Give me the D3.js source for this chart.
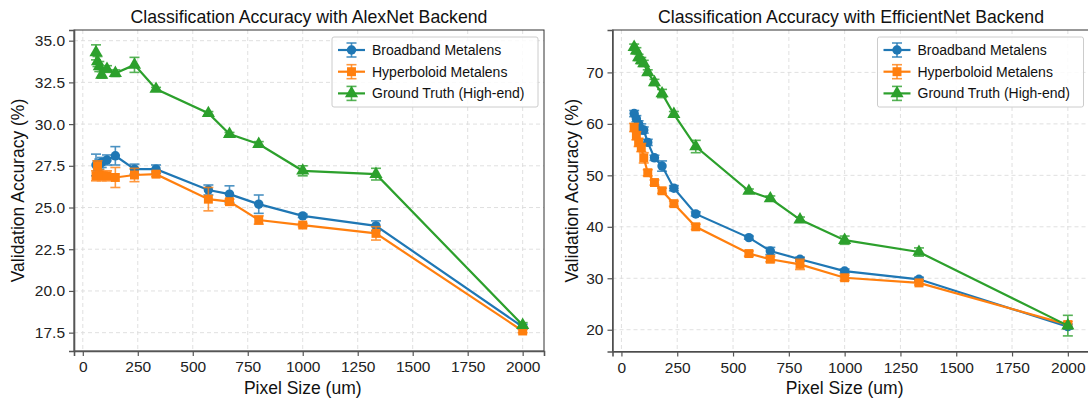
<!DOCTYPE html>
<html>
<head>
<meta charset="utf-8">
<script src="https://cdn.jsdelivr.net/npm/d3@7"></script>
<style>
  body { margin: 0; background: #fff; }
  svg { font-family: "Liberation Sans", Arial, sans-serif; }
</style>
</head>
<body>
<div id="chart"></div>
<script>
// Pixel sizes (um) used on each panel
const alexPixelSizes = [60, 67, 75, 86, 110, 148, 235, 333, 571, 667, 800, 1000, 1333, 2000];
const effPixelSizes = [57, 67, 77, 89, 100, 118, 148, 182, 235, 333, 571, 667, 800, 1000, 1333, 2000];

// AlexNet backend accuracies (%) and error bars
const alexBroadband = [27.55, 27.5, 27.6, 27.7, 27.85, 28.1, 27.3, 27.3, 26.05, 25.8, 25.2, 24.5, 23.9, 17.85];
const alexBroadbandErr = [0.65, 0.3, 0.3, 0.3, 0.3, 0.55, 0.3, 0.25, 0.3, 0.5, 0.55, 0.1, 0.3, 0.15];
const alexHyperboloid = [26.9, 27.5, 26.95, 26.9, 26.9, 26.8, 26.95, 27.0, 25.5, 25.35, 24.25, 23.95, 23.45, 17.6];
const alexHyperboloidErr = [0.3, 0.3, 0.3, 0.3, 0.3, 0.6, 0.4, 0.15, 0.7, 0.15, 0.25, 0.1, 0.4, 0.1];
const alexGroundTruth = [34.3, 33.75, 33.45, 32.95, 33.3, 33.05, 33.55, 32.1, 30.65, 29.4, 28.8, 27.2, 27.0, 17.95];
const alexGroundTruthErr = [0.45, 0.3, 0.3, 0.2, 0.2, 0.2, 0.45, 0.1, 0.1, 0.1, 0.15, 0.3, 0.35, 0.15];

// EfficientNet backend accuracies (%) and error bars
const effBroadband = [62.0, 61.0, 60.0, 59.0, 58.8, 56.4, 53.4, 51.8, 47.5, 42.5, 37.9, 35.3, 33.7, 31.4, 29.8, 20.6];
const effBroadbandErr = [0.6, 0.6, 0.6, 1.0, 0.6, 0.6, 0.5, 1.0, 0.5, 0.4, 0.3, 0.7, 0.4, 0.4, 0.4, 0.5];
const effHyperboloid = [59.3, 57.7, 56.4, 55.4, 53.4, 50.5, 48.6, 47.0, 44.5, 40.0, 34.8, 33.7, 32.7, 30.1, 29.1, 21.0];
const effHyperboloidErr = [0.8, 0.8, 0.8, 0.8, 1.0, 0.6, 0.5, 0.5, 0.5, 0.5, 0.5, 0.5, 1.0, 0.5, 0.4, 0.6];
const effGroundTruth = [74.9, 74.2, 72.9, 72.3, 71.75, 70.0, 68.05, 65.9, 61.9, 55.6, 46.95, 45.5, 41.4, 37.4, 35.1, 20.8];
const effGroundTruthErr = [0.6, 0.6, 0.6, 0.6, 0.6, 0.5, 0.6, 0.8, 0.5, 1.2, 0.4, 0.5, 0.5, 0.8, 0.8, 2.0];

// Axis ticks
const xTicks = [0, 250, 500, 750, 1000, 1250, 1500, 1750, 2000];
const alexYTicks = [17.5, 20.0, 22.5, 25.0, 27.5, 30.0, 32.5, 35.0];
const effYTicks = [20, 30, 40, 50, 60, 70];

const seriesNames = ["Broadband Metalens", "Hyperboloid Metalens", "Ground Truth (High-end)"];
const seriesColors = ["#1f77b4", "#ff7f0e", "#2ca02c"];
const seriesShapes = [d3.symbolCircle, d3.symbolSquare, d3.symbolTriangle];
const seriesSizes = [70, 80, 75];

const svg = d3.select("#chart")
    .append("svg")
    .attr("width", 1088)
    .attr("height", 409);

function drawPanel(opts) {
    const {left, right, top, bottom, xs, series, yDomain, yTicks, yFormat, title, yLabelX} = opts;

    const x = d3.scaleLinear().domain([-40, 2097]).range([left, right]);
    const y = d3.scaleLinear().domain(yDomain).range([bottom, top]);

    const g = svg.append("g");

    // Dashed grid
    g.append("g")
        .selectAll("line.vgrid")
        .data(xTicks)
        .join("line")
        .attr("x1", d => x(d)).attr("x2", d => x(d))
        .attr("y1", top).attr("y2", bottom)
        .attr("stroke", "#dcdcdc")
        .attr("stroke-width", 0.9)
        .attr("stroke-dasharray", "4,3");
    g.append("g")
        .selectAll("line.hgrid")
        .data(yTicks)
        .join("line")
        .attr("x1", left).attr("x2", right)
        .attr("y1", d => y(d)).attr("y2", d => y(d))
        .attr("stroke", "#dcdcdc")
        .attr("stroke-width", 0.9)
        .attr("stroke-dasharray", "4,3");

    // Series: line, error bars, markers
    series.forEach((s, i) => {
        const pts = xs.map((v, j) => ({x: v, y: s.values[j], e: s.errs[j]}));
        const color = seriesColors[i];

        g.append("path")
            .datum(pts)
            .attr("fill", "none")
            .attr("stroke", color)
            .attr("stroke-width", 2.2)
            .attr("d", d3.line().x(d => x(d.x)).y(d => y(d.y)));

        const eb = g.append("g")
            .attr("stroke", color)
            .attr("stroke-width", 1.6)
            .attr("opacity", 0.8);
        eb.selectAll("line.bar")
            .data(pts)
            .join("line")
            .attr("x1", d => x(d.x)).attr("x2", d => x(d.x))
            .attr("y1", d => y(d.y - d.e)).attr("y2", d => y(d.y + d.e));
        eb.selectAll("line.capTop")
            .data(pts)
            .join("line")
            .attr("class", "capTop")
            .attr("x1", d => x(d.x) - 5).attr("x2", d => x(d.x) + 5)
            .attr("y1", d => y(d.y + d.e)).attr("y2", d => y(d.y + d.e));
        eb.selectAll("line.capBot")
            .data(pts)
            .join("line")
            .attr("class", "capBot")
            .attr("x1", d => x(d.x) - 5).attr("x2", d => x(d.x) + 5)
            .attr("y1", d => y(d.y - d.e)).attr("y2", d => y(d.y - d.e));

        g.append("g")
            .selectAll("path")
            .data(pts)
            .join("path")
            .attr("transform", d => `translate(${x(d.x)},${y(d.y)})`)
            .attr("d", d3.symbol().type(seriesShapes[i]).size(seriesSizes[i]))
            .attr("fill", color);
    });

    // Frame
    g.append("rect")
        .attr("x", left).attr("y", top)
        .attr("width", right - left).attr("height", bottom - top)
        .attr("fill", "none")
        .attr("stroke", "#333")
        .attr("stroke-width", 1);

    // Axes
    const xAxis = g.append("g")
        .attr("transform", `translate(0,${bottom})`)
        .call(d3.axisBottom(x).tickValues(xTicks).tickSize(5).tickPadding(5).tickFormat(d3.format("d")));
    const yAxis = g.append("g")
        .attr("transform", `translate(${left},0)`)
        .call(d3.axisLeft(y).tickValues(yTicks).tickSize(5).tickPadding(4).tickFormat(yFormat));
    [xAxis, yAxis].forEach(a => {
        a.select(".domain").attr("stroke", "#555").attr("stroke-width", 1.6);
        a.selectAll(".tick line").attr("stroke", "#555").attr("stroke-width", 1.2);
        a.selectAll(".tick text").attr("fill", "#222").style("font-size", "15.5px");
    });

    // Title and axis labels
    svg.append("text")
        .attr("x", (left + right) / 2)
        .attr("y", 23)
        .attr("text-anchor", "middle")
        .style("font-size", "17.7px")
        .attr("fill", "#111")
        .text(title);
    svg.append("text")
        .attr("x", x(1000))
        .attr("y", 394)
        .attr("text-anchor", "middle")
        .style("font-size", "17.5px")
        .attr("fill", "#111")
        .text("Pixel Size (um)");
    svg.append("text")
        .attr("transform", `translate(${yLabelX},${(top + bottom) / 2}) rotate(-90)`)
        .attr("text-anchor", "middle")
        .attr("dy", "0.35em")
        .style("font-size", "17.5px")
        .attr("fill", "#111")
        .text("Validation Accuracy (%)");

    // Legend
    const lgX = right - 212, lgY = top + 7;
    const lg = g.append("g").attr("transform", `translate(${lgX},${lgY})`);
    lg.append("rect")
        .attr("width", 206).attr("height", 70)
        .attr("rx", 2)
        .attr("fill", "#fff")
        .attr("fill-opacity", 0.85)
        .attr("stroke", "#ccc");
    seriesNames.forEach((name, i) => {
        const cy = 13 + i * 21.7;
        const row = lg.append("g").attr("transform", `translate(0,${cy})`);
        row.append("line")
            .attr("x1", 6).attr("x2", 33).attr("y1", 0).attr("y2", 0)
            .attr("stroke", seriesColors[i]).attr("stroke-width", 2.2);
        row.append("line")
            .attr("x1", 19.5).attr("x2", 19.5).attr("y1", -7).attr("y2", 7)
            .attr("stroke", seriesColors[i]).attr("stroke-width", 1.6).attr("opacity", 0.8);
        [-7, 7].forEach(cyc => row.append("line")
            .attr("x1", 14.5).attr("x2", 24.5).attr("y1", cyc).attr("y2", cyc)
            .attr("stroke", seriesColors[i]).attr("stroke-width", 1.6).attr("opacity", 0.8));
        row.append("path")
            .attr("transform", "translate(19.5,0)")
            .attr("d", d3.symbol().type(seriesShapes[i]).size(seriesSizes[i]))
            .attr("fill", seriesColors[i]);
        row.append("text")
            .attr("x", 40).attr("y", 5)
            .style("font-size", "14px")
            .attr("fill", "#111")
            .text(name);
    });
}

drawPanel({
    left: 74, right: 544, top: 30, bottom: 351,
    xs: alexPixelSizes,
    series: [
        {values: alexBroadband, errs: alexBroadbandErr},
        {values: alexHyperboloid, errs: alexHyperboloidErr},
        {values: alexGroundTruth, errs: alexGroundTruthErr}
    ],
    yDomain: [16.4, 35.64],
    yTicks: alexYTicks,
    yFormat: d3.format(".1f"),
    title: "Classification Accuracy with AlexNet Backend",
    yLabelX: 18
});

drawPanel({
    left: 612.5, right: 1089.5, top: 30, bottom: 351.5,
    xs: effPixelSizes,
    series: [
        {values: effBroadband, errs: effBroadbandErr},
        {values: effHyperboloid, errs: effHyperboloidErr},
        {values: effGroundTruth, errs: effGroundTruthErr}
    ],
    yDomain: [15.77, 78.24],
    yTicks: effYTicks,
    yFormat: d3.format("d"),
    title: "Classification Accuracy with EfficientNet Backend",
    yLabelX: 572
});
</script>
</body>
</html>
